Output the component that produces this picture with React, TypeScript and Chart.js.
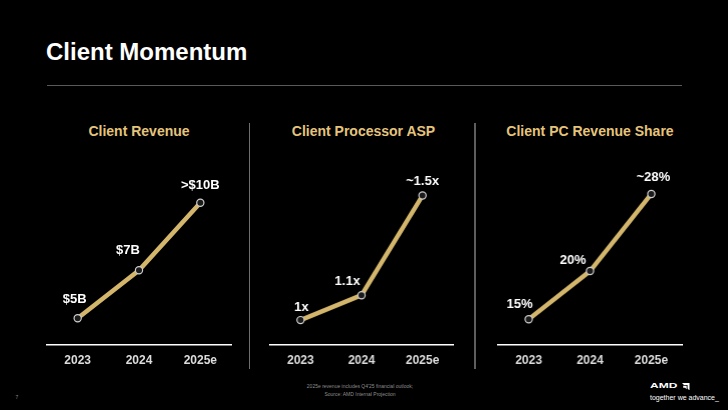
import React, { useEffect, useRef } from "react";
import { Chart, registerables } from "chart.js";

Chart.register(...registerables);

// ---- data ----
const years = ["2023", "2024", "2025e"];

const revenueValues = [4.8, 7.0, 10.1];
const revenueLabels = ["$5B", "$7B", ">$10B"];

const aspValues = [1.0, 1.1, 1.5];
const aspLabels = ["1x", "1.1x", "~1.5x"];

const shareValues = [15, 20, 28];
const shareLabels = ["15%", "20%", "~28%"];

const panelTitles = ["Client Revenue", "Client Processor ASP", "Client PC Revenue Share"];

// ---- styles / layout ----
const FONT = '"Liberation Sans", Arial, Helvetica, sans-serif';
const GOLD = "#E4C47C";
const LINE_GOLD = "#D3B66C";

type PanelCfg = {
  values: number[];
  labels: string[];
  title: string;
  areaLeft: number;
  areaWidth: number;
  titleCenter: number;
  yMin: number;
  yMax: number;
  offsets: number[][];
};

const panels: PanelCfg[] = [
  {
    values: revenueValues,
    labels: revenueLabels,
    title: panelTitles[0],
    areaLeft: 46.7,
    areaWidth: 184,
    titleCenter: 139,
    yMin: 3.576,
    yMax: 12.516,
    offsets: [[-3, -19], [-11, -20], [0, -17]],
  },
  {
    values: aspValues,
    labels: aspLabels,
    title: panelTitles[1],
    areaLeft: 270,
    areaWidth: 182.7,
    titleCenter: 363.5,
    yMin: 0.9,
    yMax: 1.683,
    offsets: [[1, -13], [-14, -14], [0, -14]],
  },
  {
    values: shareValues,
    labels: shareLabels,
    title: panelTitles[2],
    areaLeft: 498,
    areaWidth: 183.7,
    titleCenter: 590,
    yMin: 12.33,
    yMax: 32.56,
    offsets: [[-9, -15], [-17, -11], [2, -17]],
  },
];

const CANVAS_TOP = 140;
const CANVAS_H = 240;
const PAD = 10;
const XAXIS_H = 35;

const pointLabelPlugin = {
  id: "pointLabels",
  afterDatasetsDraw(chart: any, _args: any, opts: any) {
    const meta = chart.getDatasetMeta(0);
    const ctx = chart.ctx;
    ctx.save();
    ctx.font = `bold 13px ${FONT}`;
    ctx.fillStyle = "#ffffff";
    ctx.textAlign = "center";
    ctx.textBaseline = "middle";
    meta.data.forEach((pt: any, i: number) => {
      const off = (opts.offsets && opts.offsets[i]) || [0, -15];
      ctx.fillText(opts.labels[i], pt.x + off[0], pt.y + off[1]);
    });
    ctx.restore();
  },
};

function Panel({ cfg }: { cfg: PanelCfg }) {
  const ref = useRef<HTMLCanvasElement | null>(null);
  useEffect(() => {
    if (!ref.current) return;
    const chart = new Chart(ref.current, {
      type: "line",
      data: {
        labels: years,
        datasets: [
          {
            data: cfg.values,
            borderColor: LINE_GOLD,
            borderWidth: 4.5,
            pointRadius: 3.6,
            pointBackgroundColor: "#1b1b1b",
            pointBorderColor: "#cfcfcf",
            pointBorderWidth: 1.2,
            tension: 0,
            clip: false as any,
          },
        ],
      },
      options: {
        animation: false,
        responsive: false,
        maintainAspectRatio: false,
        devicePixelRatio: 1,
        layout: { padding: { top: PAD, left: PAD, right: PAD, bottom: 0 } },
        plugins: {
          legend: { display: false },
          tooltip: { enabled: false },
          pointLabels: { labels: cfg.labels, offsets: cfg.offsets },
        } as any,
        scales: {
          x: {
            type: "category",
            offset: true,
            grid: { display: false, drawTicks: false },
            border: { display: true, color: "#ffffff", width: 1.5 },
            ticks: {
              color: "#dcdcdc",
              font: { family: FONT, size: 12, weight: "bold" },
              padding: 8,
              maxRotation: 0,
            },
            afterFit: (scale: any) => {
              scale.height = XAXIS_H;
            },
          },
          y: {
            display: false,
            min: cfg.yMin,
            max: cfg.yMax,
          },
        },
      },
      plugins: [pointLabelPlugin as any],
    });
    return () => chart.destroy();
  }, [cfg]);

  const left = cfg.areaLeft - PAD;
  const width = cfg.areaWidth + PAD * 2;
  return (
    <>
      <div
        style={{
          position: "absolute",
          left: cfg.titleCenter - 100,
          width: 200,
          top: 124,
          textAlign: "center",
          fontFamily: FONT,
          fontSize: 14,
          fontWeight: "bold",
          lineHeight: "14px",
          color: GOLD,
          whiteSpace: "nowrap",
        }}
      >
        {cfg.title}
      </div>
      <canvas
        ref={ref}
        width={width}
        height={CANVAS_H}
        style={{ position: "absolute", left, top: CANVAS_TOP, width, height: CANVAS_H }}
      />
    </>
  );
}

export default function App() {
  useEffect(() => {
    document.body.style.background = "#000";
  }, []);
  return (
    <div
      style={{
        position: "absolute",
        left: 0,
        top: 0,
        width: 728,
        height: 410,
        background: "#000",
        overflow: "hidden",
        fontFamily: FONT,
      }}
    >
      <div
        style={{
          position: "absolute",
          left: 46,
          top: 40.4,
          fontSize: 24,
          lineHeight: "24px",
          fontWeight: "bold",
          color: "#fff",
          whiteSpace: "nowrap",
        }}
      >
        Client Momentum
      </div>
      <div style={{ position: "absolute", left: 46.7, top: 84.6, width: 635, height: 1.5, background: "#5a5a5a" }} />
      <div style={{ position: "absolute", left: 248.8, top: 122.7, width: 1.2, height: 246.6, background: "#6e6e6e" }} />
      <div style={{ position: "absolute", left: 474.4, top: 122.7, width: 1.2, height: 246.6, background: "#5e5e5e" }} />

      {panels.map((p, i) => (
        <Panel key={i} cfg={p} />
      ))}

      <div
        style={{
          position: "absolute",
          left: 260,
          width: 200,
          top: 381.5,
          textAlign: "center",
          fontSize: 5,
          lineHeight: "8.6px",
          color: "#8c8c8c",
          whiteSpace: "nowrap",
        }}
      >
        <div>2025e revenue includes Q4'25 financial outlook;</div>
        <div>Source: AMD Internal Projection</div>
      </div>

      <div style={{ position: "absolute", left: 15.5, top: 394, fontSize: 5, lineHeight: "6px", color: "#8c8c8c" }}>7</div>

      <div
        style={{
          position: "absolute",
          left: 650,
          top: 381.2,
          fontSize: 8,
          lineHeight: "9px",
          fontWeight: "bold",
          color: "#fff",
          transform: "scaleX(1.5)",
          transformOrigin: "left top",
          whiteSpace: "nowrap",
        }}
      >
        AMD
      </div>
      <svg
        style={{ position: "absolute", left: 682, top: 382.6 }}
        width={7.5}
        height={7.5}
        viewBox="0 0 10 10"
      >
        <path d="M0 0 H10 V10 L7.4 7.4 V2.6 H2.6 Z" fill="#fff" />
        <path d="M1.6 3.8 H6.2 V8.4 L4.2 6.4 L1.6 6.4 Z" fill="#fff" />
      </svg>
      <div
        style={{
          position: "absolute",
          left: 650,
          top: 394,
          fontSize: 7,
          lineHeight: "8px",
          color: "#fff",
          whiteSpace: "nowrap",
        }}
      >
        together we advance_
      </div>
    </div>
  );
}
